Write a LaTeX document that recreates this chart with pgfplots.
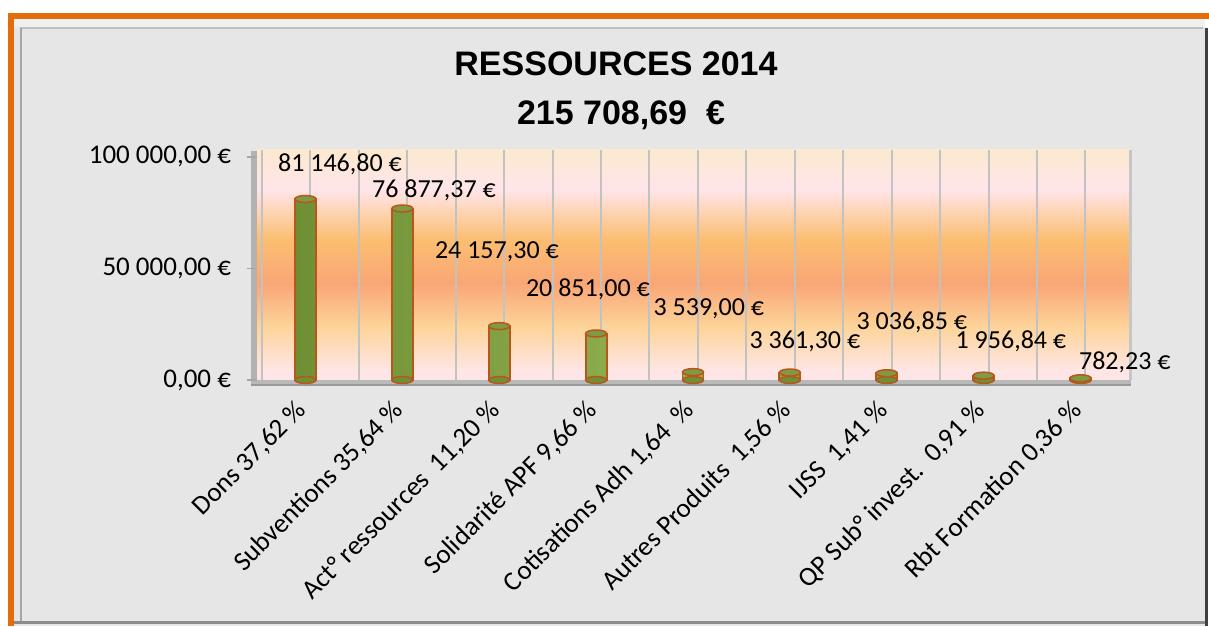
\documentclass[border=0pt]{standalone}
\usepackage{pgfplots}
\pgfplotsset{compat=1.18}
\usepackage{fontspec}
\setmainfont{Carlito}
\newfontfamily\arialfont{Liberation Sans}

\definecolor{frameorange}{HTML}{E46C0A}
\definecolor{panelgray}{HTML}{E6E6E6}
\definecolor{bg1}{HTML}{FCE9CF}
\definecolor{bg2}{HTML}{FFE5EA}
\definecolor{bg3}{HTML}{FBBE70}
\definecolor{bg4}{HTML}{F9A676}
\definecolor{bg5}{HTML}{FDD49A}
\definecolor{bg6}{HTML}{FFE6E6}
\definecolor{bardark}{HTML}{6F8F35}
\definecolor{barmid}{HTML}{92B252}
\definecolor{bartop}{HTML}{7E9B44}
\definecolor{barline}{HTML}{B9561B}
\definecolor{gridgray}{HTML}{C2C2C2}

% back wall gradient, top = 75bp, bottom = 25bp
\pgfdeclareverticalshading{plotbg}{100bp}{%
  color(0bp)=(bg6); color(25bp)=(bg6); color(27bp)=(bg6);
  color(36.5bp)=(bg5); color(46bp)=(bg4); color(55.5bp)=(bg3);
  color(66.5bp)=(bg2); color(75bp)=(bg1); color(100bp)=(bg1)}

\begin{document}
\begin{tikzpicture}
% frame and titles in pixel units (1 px = 0.5pt), y counted from the bottom
\begin{scope}[x=0.5pt,y=0.5pt]
\path[use as bounding box, fill=white] (0,0) rectangle (1209,626);
\fill[panelgray] (14,0) rectangle (1205,607);
\fill[white!40!panelgray] (14,599) rectangle (1205,607);
\fill[frameorange] (8,607) rectangle (1209,613);
\fill[frameorange] (8,0) rectangle (14,613);
\draw[gray!50, line width=1pt] (20,598) -- (1203,598);
\draw[gray!70, line width=1pt] (21,598) -- (21,5);
\draw[gray!90, line width=1.5pt] (14,4) -- (1205,4);
\draw[black!75, line width=1.5pt] (1206,598) -- (1206,0);
% 3D wall and floor
\fill[gray!60] (251,243) rectangle (257,475);
\fill[gray!55] (251,241) rectangle (1131,246);
\draw[gray!80, line width=0.8pt] (251,241) -- (1131,241);
\fill[gray!45] (1129,246) rectangle (1132,476);
% titles
\node[font=\arialfont\bfseries\fontsize{17}{20}\selectfont] at (616,562) {RESSOURCES 2014};
\node[font=\arialfont\bfseries\fontsize{17}{20}\selectfont] at (621,511) {215 708,69\ \ €};
\end{scope}

\begin{axis}[
  at={(128.5pt,123pt)}, anchor=south west,
  scale only axis, width=436pt, height=115pt,
  xmin=-0.5, xmax=8.5, ymin=0, ymax=103100,
  clip=false,
  scaled y ticks=false,
  axis line style={draw=none},
  axis background/.style={shade, shading=plotbg},
  xtick={0,...,8},
  xticklabels={{Dons 37,62 \%},{Subventions 35,64 \%},{Act° ressources\ \ 11,20 \%},
    {Solidarité APF 9,66 \%},{Cotisations Adh 1,64\ \ \%},{Autres Produits\ \ 1,56 \%},
    {IJSS\ \ 1,41 \%},{QP Sub° invest.\ \ 0,91 \%},{Rbt Formation 0,36 \%}},
  xtick style={draw=none},
  minor xtick={-0.45,0.05,...,8.1},
  xminorgrids,
  minor grid style={draw=gridgray, line width=1pt},
  ytick={0,50000,100000},
  yticklabels={{0,00 €},{50 000,00 €},{100 000,00 €}},
  ytick pos=left,
  tick align=outside,
  major tick length=5pt,
  ytick style={draw=gray!70, line width=0.8pt},
  ticklabel style={font=\fontsize{13.5}{15}\selectfont},
  yticklabel style={anchor=east, xshift=-4.5pt},
  xticklabel style={yshift=-4pt, xshift=-5.5pt, rotate=45, anchor=north east, inner sep=0pt},
]
% bottom of the cylinders
\addplot[only marks, mark=*, mark size=5.25pt,
  mark options={yscale=0.33, fill=bardark, draw=barline, line width=0.75pt}]
  coordinates {(0,0)(1,0)(2,0)(3,0)(4,0)(5,0)(6,0)(7,0)(8,0)};
% cylinder bodies
\addplot[ybar, bar width=10.5pt, draw=barline, line width=0.9pt,
  left color=bardark, right color=bardark, middle color=barmid]
  coordinates {(0,81146.80)(1,76877.37)(2,24157.30)(3,20851.00)(4,3539.00)
    (5,3361.30)(6,3036.85)(7,1956.84)(8,782.23)};
% cylinder tops
\addplot[only marks, mark=*, mark size=5.25pt,
  mark options={yscale=0.33, fill=bartop, draw=barline, line width=0.75pt}]
  coordinates {(0,81146.80)(1,76877.37)(2,24157.30)(3,20851.00)(4,3539.00)
    (5,3361.30)(6,3036.85)(7,1956.84)(8,782.23)};
% value labels, placed as in the reference
\begin{scope}[every node/.style={font=\fontsize{13}{15}\selectfont, inner sep=0pt}]
\node at (axis cs:0.356,96860) {81 146,80 €};
\node at (axis cs:1.326,85200) {76 877,37 €};
\node at (axis cs:1.976,57400) {24 157,30 €};
\node at (axis cs:2.915,40800) {20 851,00 €};
\node at (axis cs:4.164,31800) {3 539,00 €};
\node at (axis cs:5.155,17500) {3 361,30 €};
\node at (axis cs:6.259,26000) {3 036,85 €};
\node at (axis cs:7.281,17500) {1 956,84 €};
\node at (axis cs:8.457,8070) {782,23 €};
\end{scope}
\end{axis}
\end{tikzpicture}
\end{document}
